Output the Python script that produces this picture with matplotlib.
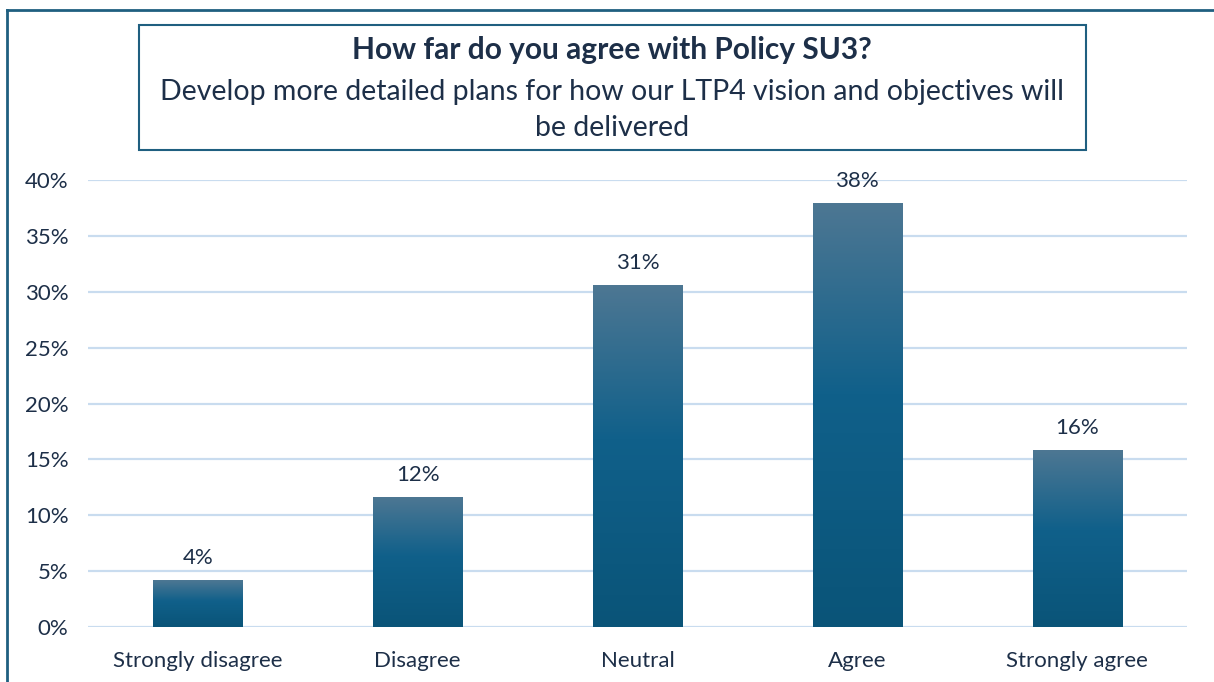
import numpy as np
import matplotlib.pyplot as plt
from matplotlib.colors import LinearSegmentedColormap
from matplotlib.patches import Rectangle

# Antworten zur Frage SU3
categories = ['Strongly disagree', 'Disagree', 'Neutral', 'Agree', 'Strongly agree']
shares = [0.042, 0.116, 0.306, 0.379, 0.158]
yticks = [0.0, 0.05, 0.10, 0.15, 0.20, 0.25, 0.30, 0.35, 0.40]

title_bold = 'How far do you agree with Policy SU3?'
title_sub = 'Develop more detailed plans for how our LTP4 vision and objectives will\nbe delivered'

text_col = '#1d2f48'
frame_col = '#1f5f80'
grid_col = '#c9dcef'

plt.rcParams['font.family'] = ['Lato', 'DejaVu Sans']

fig = plt.figure(figsize=(12.14, 6.82), dpi=100)
ax = fig.add_axes([88 / 1214, 1 - 627 / 682, 1099 / 1214, 447 / 682])

# Verlauf von oben (hell) nach unten (dunkel)
grad = LinearSegmentedColormap.from_list(
    'bar', [(0.0, '#0a5478'), (0.55, '#10608a'), (1.0, '#4d7793')])

x = np.arange(len(categories))
bars = ax.bar(x, shares, width=0.405, color='none', zorder=3)
for b, v in zip(bars, shares):
    x0, w = b.get_x(), b.get_width()
    img = ax.imshow(np.linspace(0, 1, 256).reshape(-1, 1), cmap=grad,
                    origin='lower', aspect='auto',
                    extent=(x0, x0 + w, 0, v), zorder=3)
    img.set_clip_path(b)
    ax.text(b.get_x() + w / 2, v + 0.011, f'{v * 100:.0f}%', ha='center',
            va='bottom', fontsize=16, color=text_col)

ax.set_xlim(-0.5, len(categories) - 0.5)
ax.set_ylim(0, 0.40)
ax.set_yticks(yticks)
ax.set_yticklabels([f'{t * 100:.0f}%' for t in yticks])
ax.set_xticks(x)
ax.set_xticklabels(categories)
ax.tick_params(axis='both', length=0, labelsize=16, labelcolor=text_col)
ax.tick_params(axis='y', pad=14)
ax.tick_params(axis='x', pad=17)
ax.grid(axis='y', color=grid_col, linewidth=1.6, zorder=0)
ax.set_axisbelow(True)
for s in ax.spines.values():
    s.set_visible(False)

# Rahmen links und oben
fig.add_artist(plt.Line2D([7 / 1214, 7 / 1214], [0, 1 - 10 / 682],
                          color=frame_col, linewidth=2))
fig.add_artist(plt.Line2D([7 / 1214, 1], [1 - 10 / 682, 1 - 10 / 682],
                          color=frame_col, linewidth=2))

# Titelkasten
fig.add_artist(Rectangle((139 / 1214, 1 - 150 / 682), (1086 - 139) / 1214,
                         125 / 682, transform=fig.transFigure,
                         facecolor='white', edgecolor=frame_col, linewidth=1.5))
fig.text(612 / 1214, 1 - 50 / 682, title_bold, ha='center', va='center',
         fontsize=21.5, fontweight='bold', color=text_col)
fig.text(612 / 1214, 1 - 110 / 682, title_sub, ha='center', va='center',
         fontsize=20.5, color=text_col, linespacing=1.45)

fig.savefig('out.png', dpi=100)
